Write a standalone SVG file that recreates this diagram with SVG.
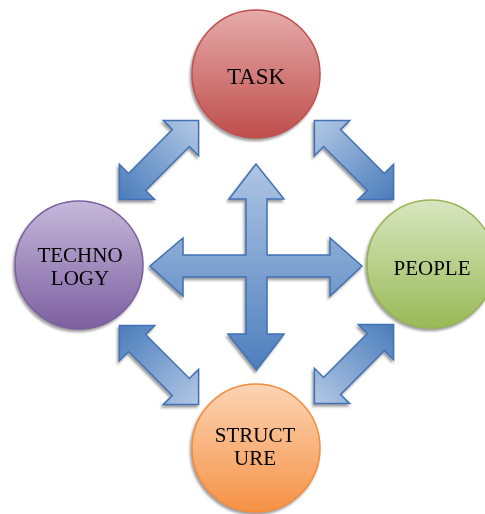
<svg xmlns="http://www.w3.org/2000/svg" width="485" height="514" viewBox="0 0 485 514">
<defs>
<filter id="sh" x="-20%" y="-20%" width="140%" height="140%">
<feDropShadow dx="-1.5" dy="2.5" stdDeviation="1.2" flood-color="#808080" flood-opacity="0.75"/>
</filter>
<linearGradient id="gTask" x1="0" y1="0" x2="0" y2="1"><stop offset="0" stop-color="#e5abaa"/><stop offset="1" stop-color="#bf4e4b"/></linearGradient>
<linearGradient id="gTech" x1="0" y1="0" x2="0" y2="1"><stop offset="0" stop-color="#c5b8da"/><stop offset="1" stop-color="#7d5fa0"/></linearGradient>
<linearGradient id="gPeople" x1="0" y1="0" x2="0" y2="1"><stop offset="0" stop-color="#d8e6c0"/><stop offset="1" stop-color="#99ba56"/></linearGradient>
<linearGradient id="gStruct" x1="0" y1="0" x2="0" y2="1"><stop offset="0" stop-color="#fbd4b5"/><stop offset="1" stop-color="#f69245"/></linearGradient>
<linearGradient id="gCross" x1="0" y1="0" x2="0" y2="1"><stop offset="0" stop-color="#afc5e4"/><stop offset="1" stop-color="#4d7fbd"/></linearGradient>
<linearGradient id="gDiag" x1="0" y1="0" x2="1" y2="0"><stop offset="0" stop-color="#4a7cbb"/><stop offset="1" stop-color="#b2c8e5"/></linearGradient>
<path id="dbl" d="M -56 0 L -31 -25 L -31 -12 L 31 -12 L 31 -25 L 56 0 L 31 25 L 31 12 L -31 12 L -31 25 Z"/>
</defs>
<style>
.c{stroke-width:1.5}
.a{stroke:#3f72b4;stroke-width:1.5;stroke-linejoin:miter}
.t{font-family:"Liberation Serif","Times New Roman",serif;font-size:21px;fill:#000;text-anchor:middle}
</style>
<g id="connectors" filter="url(#sh)">
<use href="#dbl" class="a" fill="url(#gDiag)" transform="translate(159,160) rotate(-45)"/>
<use href="#dbl" class="a" fill="url(#gDiag)" transform="translate(354,160) rotate(225)"/>
<use href="#dbl" class="a" fill="url(#gDiag)" transform="translate(159,365) rotate(45)"/>
<use href="#dbl" class="a" fill="url(#gDiag)" transform="translate(354,364) rotate(135)"/>
<path class="a" fill="url(#gCross)" d="M 256 164 L 284 199 L 267 199 L 267 255 L 330 255 L 330 238 L 362 266 L 330 296 L 330 277 L 267 277 L 267 334 L 284 334 L 256.5 370 L 228 334 L 246 334 L 246 277 L 183 277 L 183 296 L 150 266 L 183 238 L 183 255 L 246 255 L 246 199 L 229 199 Z"/>
</g>
<g id="task" filter="url(#sh)">
<circle class="c" cx="256" cy="74" r="64" fill="url(#gTask)" stroke="#c0504d"/>
<text class="t" x="256" y="84" style="font-size:23px">TASK</text>
</g>
<g id="technology" filter="url(#sh)">
<circle class="c" cx="79" cy="265" r="64" fill="url(#gTech)" stroke="#7b5f9e"/>
<text class="t" x="80" y="262">TECHNO</text>
<text class="t" x="80" y="285">LOGY</text>
</g>
<g id="people" filter="url(#sh)">
<circle class="c" cx="431" cy="264" r="64" fill="url(#gPeople)" stroke="#94b650"/>
<text class="t" x="432" y="275">PEOPLE</text>
</g>
<g id="structure" filter="url(#sh)">
<circle class="c" cx="256" cy="448" r="64" fill="url(#gStruct)" stroke="#f68b35"/>
<text class="t" x="255" y="442">STRUCT</text>
<text class="t" x="255" y="465">URE</text>
</g>
</svg>
